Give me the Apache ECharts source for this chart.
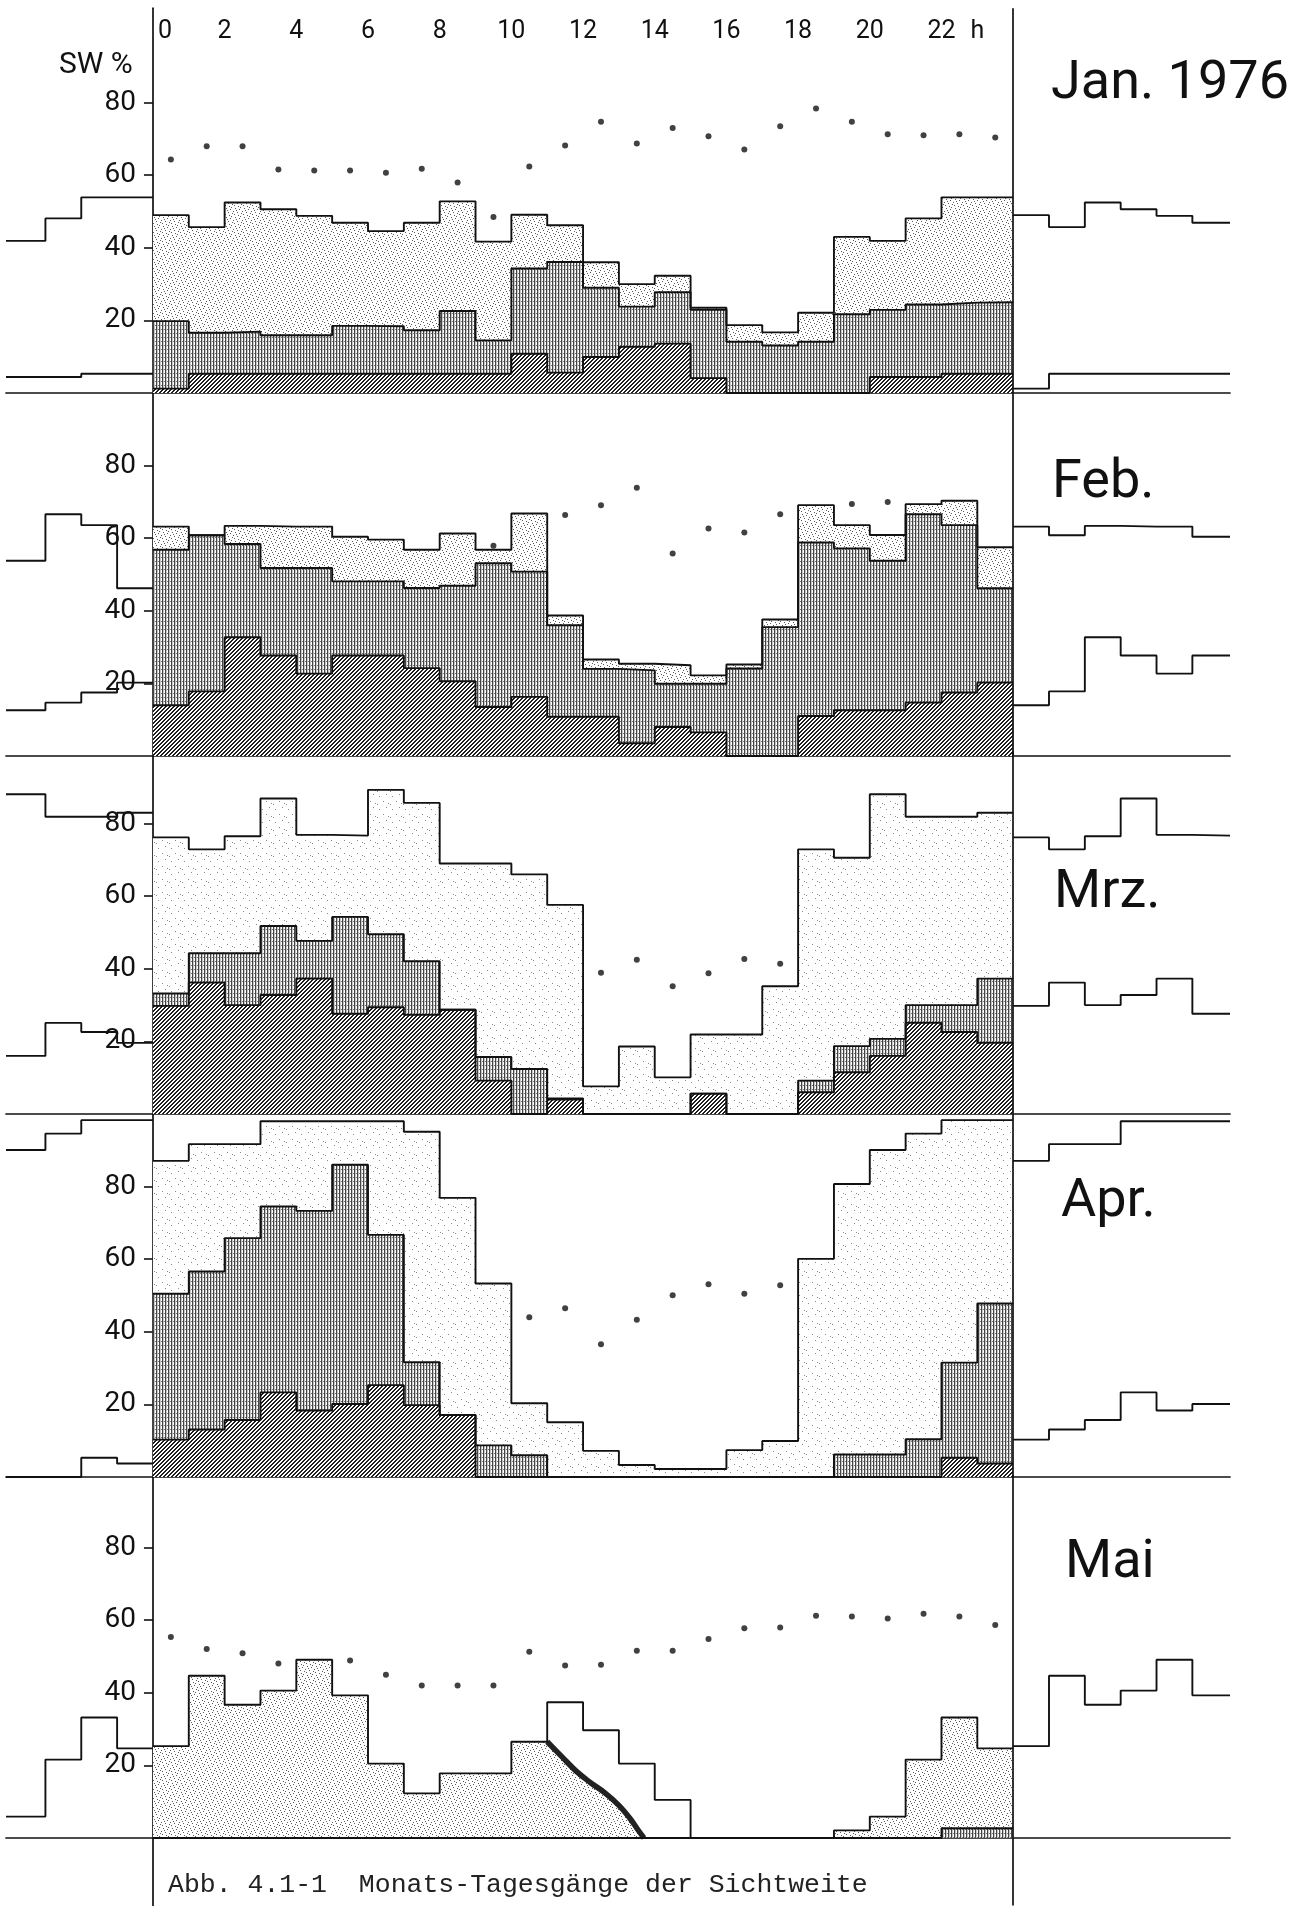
<!DOCTYPE html>
<html>
<head>
<meta charset="utf-8">
<script src="https://cdn.jsdelivr.net/npm/echarts@6/dist/echarts.min.js"></script>
<style>
  html, body { margin: 0; padding: 0; background: #fff; }
  #chart { width: 1301px; height: 1906px; }
</style>
</head>
<body>
<div id="chart"></div>
<script>
// Stundenwerte 0..23 h (Anteil in %), Punkte jeweils zur halben Stunde
var janLight = [49, 45.7, 52.5, 50.6, 48.8, 46.9, 44.6, 46.9, 52.8, 41.7, 49.1, 46.2, 36, 30, 32.3, 23.5, 18.7, 16.7, 22.1, 43, 41.9, 48.1, 53.9, 53.9];
var janMid   = [19.8, 16.6, 16.9, 15.9, 15.9, 18.5, 18.4, 17.3, 22.6, 14.5, 34.3, 36.1, 29, 23.8, 27.8, 22.9, 14.1, 13.1, 14.1, 21.7, 22.9, 24.4, 24.9, 25];
var janDark  = [1.2, 5.3, 5.3, 5.3, 5.3, 5.3, 5.3, 5.3, 5.3, 5.3, 10.8, 5.6, 9.9, 12.7, 13.6, 4.1, 0, 0, 0, 0, 4.4, 4.4, 5.3, 5.3];
var janDots  = [64.3, 68, 68, 61.6, 61.3, 61.3, 60.7, 61.8, 58, 48.5, 62.4, 68.2, 74.7, 68.7, 73, 70.7, 67.1, 73.5, 78.4, 74.7, 71.3, 71, 71.3, 70.4];

var febLight = [63.2, 60.8, 63.4, 63.2, 63.2, 60.4, 59.6, 56.8, 61.3, 56.8, 66.8, 38.7, 26.6, 25.4, 25, 22.2, 25.2, 37.6, 69.1, 63.6, 60.9, 69.4, 70.3, 57.5];
var febMid   = [56.8, 60.8, 58.4, 51.8, 51.8, 48.1, 48.1, 46.3, 46.9, 53.1, 50.8, 36, 24, 23.6, 19.9, 19.9, 24.1, 35.5, 58.8, 57.2, 53.8, 66.6, 63.6, 46.2];
var febDark  = [14, 17.8, 32.7, 27.7, 22.7, 27.7, 27.7, 24.2, 20.6, 13.5, 16.3, 10.8, 10.8, 3.5, 8, 6.5, 0, 0, 11, 12.6, 12.6, 14.7, 17.5, 20.2];
var febDots  = [55.2, 51.2, 47.2, 45.1, 36.1, 45.6, 45.6, 45.6, 51.2, 57.9, 62.2, 66.4, 69.1, 73.9, 55.8, 62.7, 61.6, 66.6, 61.3, 69.4, 70, 60.7, 66.9, 54.7];

var mrzLight = [76.2, 72.9, 76.5, 86.9, 76.9, 76.7, 89.3, 85.7, 69, 69, 66, 57.6, 7.6, 18.6, 10.1, 21.9, 21.9, 35.2, 72.9, 70.6, 88.1, 81.9, 81.9, 83];
var mrzMid   = [33.2, 44.3, 44.3, 51.8, 47.7, 54.3, 49.5, 42.1, 28.7, 15.7, 12.4, 4.3, 0, 0, 0, 5.6, 0, 0, 9.2, 18.7, 20.7, 30, 30, 37.3];
var mrzDark  = [29.8, 36.2, 30, 32.8, 37.3, 27.6, 29.4, 27.3, 28.7, 9.2, 0, 4, 0, 0, 0, 5.6, 0, 0, 6, 11.5, 16, 25.1, 22.6, 19.6];
var mrzDots  = [20.3, 29.9, 16, 30, 29.3, 30.2, 26.2, 25.5, 32.6, 35.3, 26, 35, 38.9, 42.5, 35.2, 38.8, 42.7, 41.4, 42, 41.5, 45.9, 41.1, 35.5, 29.3];

var aprLight = [87.1, 91.7, 91.7, 98, 98, 98, 98, 95.1, 76.9, 53.3, 20.3, 15.1, 7.2, 3.3, 2.2, 2.2, 7.4, 9.9, 60.1, 80.7, 90.1, 94.6, 98.3, 98.3];
var aprMid   = [50.5, 56.6, 65.8, 74.5, 73.3, 86, 66.7, 31.6, 17.1, 8.7, 6, 0, 0, 0, 0, 0, 0, 0, 0, 6.2, 6.2, 10.4, 31.5, 47.8];
var aprDark  = [10.3, 13.1, 15.7, 23.3, 18.3, 20.1, 25.3, 19.8, 17.1, 0, 0, 0, 0, 0, 0, 0, 0, 0, 0, 0, 0, 0, 5.3, 3.7];
var aprDots  = [54, 51.5, 50.7, 47.4, 50.5, 43.1, 43.5, 44.4, 42.7, 40.5, 44, 46.5, 36.6, 43.3, 50.1, 53.1, 50.5, 52.8, 52.8, 50.7, 50.3, 50.3, 49.6, 50.5];

var maiLight = [25.3, 44.7, 36.7, 40.6, 49.1, 39.3, 20.5, 12.3, 17.8, 17.8, 26.5, 37.4, 29.7, 20.5, 10.5, 0, 0, 0, 0, 2.1, 5.9, 21.6, 33.2, 24.7];
var maiFill  = [25.3, 44.7, 36.7, 40.6, 49.1, 39.3, 20.5, 12.3, 17.8, 17.8, 26.5, 0, 0, 0, 0, 0, 0, 0, 0, 2.1, 5.9, 21.6, 33.2, 24.7];
var maiMid   = [0, 0, 0, 0, 0, 0, 0, 0, 0, 0, 0, 0, 0, 0, 0, 0, 0, 0, 0, 0, 0, 0, 2.7, 2.7];
var maiDots  = [55.4, 52.1, 50.9, 48.1, 47, 48.9, 45, 42, 42, 42, 51.3, 47.5, 47.7, 51.6, 51.6, 54.8, 57.8, 58, 61.2, 61, 60.5, 61.8, 61, 58.7];
var maiCurve = [[11, 26.5], [11.4, 22.5], [11.8, 18.5], [12.2, 15.3], [12.6, 12.5], [13, 9], [13.3, 5.5], [13.55, 2], [13.7, 0]];

var hourTicks = [0, 2, 4, 6, 8, 10, 12, 14, 16, 18, 20, 22, 23];
var yTicks = [20, 40, 60, 80];
var monthNames = ['Jan. 1976', 'Feb.', 'Mrz.', 'Apr.', 'Mai'];

// Raster fuer die Flaechen
function tile(w, h, fn) {
  var c = document.createElement('canvas');
  c.width = w; c.height = h;
  var g = c.getContext('2d');
  g.fillStyle = '#fff';
  g.fillRect(0, 0, w, h);
  fn(g);
  return { image: c, repeat: 'repeat' };
}
function dots(g, col, pts) {
  g.fillStyle = col;
  pts.forEach(function (p) { g.fillRect(p[0], p[1], 1, 1); });
}
var patDense = tile(9, 9, function (g) {
  dots(g, '#5a5a5a', [[1, 1], [5, 2], [3, 5], [7, 6], [0, 7], [6, 0], [2, 3], [8, 4], [4, 8]]);
});
var patSparse = tile(13, 13, function (g) {
  dots(g, '#8a8a8a', [[2, 3], [9, 1], [6, 8], [11, 10], [0, 11]]);
});
var patVert = tile(3, 4, function (g) {
  g.fillStyle = '#444'; g.fillRect(0, 0, 1, 4);
  g.fillStyle = '#c4c4c4'; g.fillRect(1, 0, 1, 4);
  dots(g, '#777', [[2, 1]]);
});
var patDiag = tile(4, 4, function (g) {
  for (var x = 0; x < 4; x++) {
    for (var y = 0; y < 4; y++) {
      var s = (x + y) % 4;
      if (s === 0 || s === 3) { g.fillStyle = '#1e1e1e'; g.fillRect(x, y, 1, 1); }
    }
  }
});

var panels = [
  { light: janLight, mid: janMid, dark: janDark, dots: janDots, leftUp: janLight, pat: patDense },
  { light: febLight, mid: febMid, dark: febDark, dots: febDots, leftUp: febMid, pat: patDense },
  { light: mrzLight, mid: mrzMid, dark: mrzDark, dots: mrzDots, leftUp: mrzLight, pat: patSparse },
  { light: aprLight, mid: aprMid, dark: aprDark, dots: aprDots, leftUp: aprLight, pat: patSparse },
  { light: maiLight, mid: maiMid, dark: null, dots: maiDots, leftUp: maiLight, pat: null }
];

// Lage der Teilbilder
var base = [393, 756, 1114, 1477, 1838];
var pxPer = 3.63;
var yMaxs = [106, 100, 100, 100, 100];
var yMins = [0, 0, 0, 0, -18.6];
var xMin = -4.1, xMax = 30.05;
var gridLeft = 6, gridWidth = 1224;
var yAxisOffset = -(0 - xMin) / (xMax - xMin) * gridWidth;
var lineW = 1.9;

function steps(vals) {
  var d = vals.map(function (v, i) { return [i, v]; });
  d.push([24, vals[23]]);
  return d;
}
function leftSide(vals) {
  return [[xMin, vals[20]], [-3, vals[21]], [-2, vals[22]], [-1, vals[23]], [0, vals[23]]];
}
function rightSide(vals) {
  var d = [];
  for (var i = 0; i < 6; i++) d.push([24 + i, vals[i]]);
  d.push([xMax, vals[5]]);
  return d;
}
function halfHours(vals) {
  return vals.map(function (v, i) { return [i + 0.5, v]; });
}
function stepSeries(k, data, pat, w) {
  var s = {
    type: 'line', xAxisIndex: k, yAxisIndex: k, step: 'end', symbol: 'none',
    data: data, silent: true,
    lineStyle: { color: '#111', width: w == null ? lineW : w }
  };
  if (pat) s.areaStyle = { color: pat, opacity: 1 };
  return s;
}

var grids = [], xAxes = [], yAxes = [], series = [], titles = [];

panels.forEach(function (p, k) {
  var top = base[k] - yMaxs[k] * pxPer;
  grids.push({
    left: gridLeft, width: gridWidth, top: top, height: (yMaxs[k] - yMins[k]) * pxPer,
    containLabel: false, outerBoundsMode: 'none'
  });
  xAxes.push({
    type: 'value', gridIndex: k, min: xMin, max: xMax,
    axisLine: { show: true, onZero: true, lineStyle: { color: '#111', width: 1.7 } },
    axisTick: { show: false }, axisLabel: { show: false }, splitLine: { show: false }
  });
  yAxes.push({
    type: 'value', gridIndex: k, min: yMins[k], max: yMaxs[k], offset: yAxisOffset,
    axisLine: { show: true, onZero: false, lineStyle: { color: '#111', width: 1.7 } },
    axisTick: { show: true, length: 9, customValues: yTicks, lineStyle: { color: '#111', width: 1.6 } },
    axisLabel: { show: true, customValues: yTicks, margin: 17, fontSize: 28, color: '#111', fontFamily: 'Roboto' },
    splitLine: { show: false }
  });

  if (k === 4) {
    series.push(stepSeries(k, steps(maiFill), patDense, 0));
    series.push({
      type: 'line', xAxisIndex: k, yAxisIndex: k, symbol: 'none', smooth: 0.4, silent: true,
      data: maiCurve, lineStyle: { color: '#222', width: 5.5 },
      areaStyle: { color: patDense, opacity: 1 }
    });
  }
  series.push(stepSeries(k, steps(p.light), p.pat));
  series.push(stepSeries(k, steps(p.mid), patVert));
  if (p.dark) series.push(stepSeries(k, steps(p.dark), patDiag));

  series.push(stepSeries(k, leftSide(p.leftUp), null));
  series.push(stepSeries(k, rightSide(p.light), null));
  if (p.dark) {
    series.push(stepSeries(k, leftSide(p.dark), null));
    series.push(stepSeries(k, rightSide(p.dark), null));
  }

  series.push({
    type: 'scatter', xAxisIndex: k, yAxisIndex: k, symbol: 'circle', symbolSize: 6,
    data: halfHours(p.dots), itemStyle: { color: '#111' }, silent: true,
    markLine: {
      silent: true, symbol: ['none', 'none'], label: { show: false },
      lineStyle: { color: '#111', width: 1.7, type: 'solid' },
      data: [{ xAxis: 24 }]
    }
  });
});

// Stundenskala oben
xAxes.push({
  type: 'value', gridIndex: 0, position: 'top', min: xMin, max: xMax,
  axisLine: { show: false }, axisTick: { show: false }, splitLine: { show: false },
  axisLabel: {
    show: true, inside: true, margin: 11, customValues: hourTicks,
    fontSize: 25, color: '#111', fontFamily: 'Roboto',
    formatter: function (v) {
      if (v === 23) return 'h';
      if (v === 0) return '{z|0}';
      return String(v);
    },
    rich: { z: { padding: [0, 0, 0, 24], fontSize: 25, color: '#111', fontFamily: 'Roboto' } }
  }
});

var titleTops = [52, 451, 861, 1170, 1531];
var titleLefts = [1046, 1047, 1049, 1056, 1060];
monthNames.forEach(function (m, k) {
  titles.push({
    text: m, left: titleLefts[k], top: titleTops[k],
    textStyle: { fontFamily: 'Roboto', fontSize: 54, fontWeight: 'normal', color: '#111' }
  });
});
titles.push({
  text: 'SW %', left: 54, top: 45,
  textStyle: { fontFamily: 'Roboto', fontSize: 30, fontWeight: 'normal', color: '#111' }
});
titles.push({
  text: 'Abb. 4.1-1  Monats-Tagesgänge der Sichtweite', left: 163, top: 1866,
  textStyle: { fontFamily: 'Liberation Mono', fontSize: 26.5, fontWeight: 'normal', color: '#222' }
});

var myChart = echarts.init(document.getElementById('chart'));
myChart.setOption({
  animation: false,
  backgroundColor: '#fff',
  textStyle: { fontFamily: 'Roboto' },
  title: titles,
  grid: grids,
  xAxis: xAxes,
  yAxis: yAxes,
  series: series
});
</script>
</body>
</html>
